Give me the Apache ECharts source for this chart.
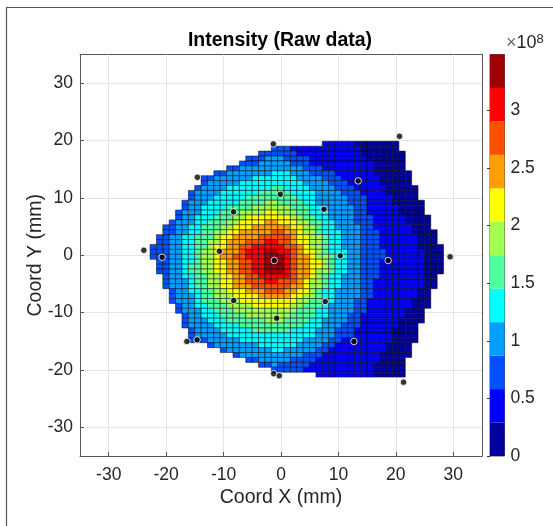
<!DOCTYPE html>
<html><head><meta charset="utf-8">
<style>html,body{margin:0;padding:0;background:#fff}#c{width:553px;height:526px}</style>
<script src="https://cdn.jsdelivr.net/npm/echarts@6/dist/echarts.min.js"></script>
</head><body><div id="c"></div>
<script>
const titleText = 'Intensity (Raw data)';
const xName = 'Coord X (mm)';
const yName = 'Coord Y (mm)';
const xTicks = [-30,-20,-10,0,10,20,30];
const yTicks = [-30,-20,-10,0,10,20,30];
const colorbarMax = 3.485;
const bandColors = ['#00009f','#0000ff','#0050ff','#00a0ff','#00ffff','#50ffa0','#a0ff50','#ffff00','#ffa000','#ff5000','#ff0000','#a00000'];
const cellWidth = 1.111, cellHeight = 0.8566, firstColLeft = -22.8, firstRowTop = 19.87;
// each row: "firstColumn:colourBand ..." runs, top row first
const rowRuns = [
"27:1 32:0","19:2 22:1 33:0","17:2 23:1 33:0","15:2 18:3 21:2 25:1 34:0","14:2 17:3 22:2 25:1 35:0",
"12:2 14:3 24:2 27:1 35:0","10:2 12:3 19:4 22:3 25:2 29:1 35:0","8:2 10:3 16:4 23:3 27:2 30:1 36:0",
"8:2 9:3 14:4 24:3 28:2 31:1 36:0","7:2 8:3 12:4 19:5 21:4 25:3 29:2 32:1 37:0",
"6:2 7:3 11:4 17:5 22:4 26:3 30:2 33:1 37:0","6:2 7:3 10:4 15:5 23:4 26:3 31:2 34:1 38:0",
"5:2 6:3 9:4 14:5 18:6 20:5 24:4 26:3 31:2 34:1 38:0","5:2 6:3 8:4 12:5 16:6 22:5 25:4 27:3 32:2 34:1 39:0",
"4:2 5:3 8:4 11:5 14:6 18:7 20:6 23:5 25:4 28:3 32:2 34:1 39:0","4:2 5:3 7:4 10:5 13:6 15:7 22:6 24:5 26:4 28:3 32:2 35:1 40:0",
"3:2 4:3 7:4 9:5 12:6 14:7 18:8 20:7 23:6 25:5 27:4 29:3 32:2 35:1 40:0",
"2:2 4:3 6:4 8:5 11:6 13:7 16:8 22:7 24:6 26:5 27:4 29:3 33:2 35:1 41:0",
"2:2 4:3 6:4 8:5 10:6 12:7 14:8 19:9 21:8 23:7 24:6 26:5 27:4 30:3 33:2 36:1 41:0",
"1:2 3:3 5:4 7:5 10:6 11:7 13:8 17:9 22:8 23:7 25:6 27:5 28:4 30:3 33:2 36:1 42:0",
"1:2 3:3 5:4 7:5 9:6 11:7 12:8 15:9 18:10 20:9 22:8 23:7 25:6 27:5 28:4 30:3 33:2 36:1 42:0",
"0:2 3:3 5:4 7:5 9:6 10:7 12:8 14:9 16:10 21:9 23:8 24:7 25:6 27:5 28:4 30:3 33:2 36:1 42:0",
"0:2 3:3 5:4 7:5 8:6 10:7 11:8 14:9 15:10 18:11 20:10 22:9 23:8 24:7 26:6 27:5 28:4 31:3 33:2 37:1 43:0",
"0:2 3:3 5:4 7:5 8:6 10:7 11:8 13:9 15:10 18:11 21:10 22:9 23:8 25:7 26:6 28:5 29:4 31:3 33:2 37:1 43:0",
"1:2 3:3 5:4 7:5 8:6 10:7 12:8 14:9 16:10 18:11 21:10 22:9 23:8 25:7 27:6 28:5 29:4 31:3 33:2 36:1 43:0",
"1:2 3:3 5:4 6:5 8:6 10:7 12:8 14:9 16:10 18:11 21:10 22:9 23:8 25:7 27:6 28:5 29:4 31:3 33:2 36:1 43:0",
"1:2 3:3 5:4 6:5 8:6 10:7 12:8 14:9 16:10 18:11 21:10 22:9 23:8 25:7 26:6 28:5 29:4 31:3 33:2 36:1 43:0",
"2:2 3:3 5:4 7:5 9:6 11:7 13:8 15:9 17:10 22:9 23:8 25:7 26:6 27:5 28:4 30:3 33:2 36:1 43:0",
"2:2 3:3 6:4 7:5 9:6 11:7 13:8 15:9 18:10 20:9 23:8 24:7 25:6 27:5 28:4 30:3 33:2 35:1 43:0",
"2:2 3:3 6:4 7:5 9:6 11:7 13:8 16:9 22:8 24:7 25:6 27:5 28:4 30:3 33:2 35:1 43:0",
"3:2 4:3 6:4 8:5 10:6 12:7 15:8 18:9 21:8 23:7 25:6 26:5 27:4 29:3 33:2 35:1 42:0",
"3:2 4:3 7:4 8:5 10:6 13:7 17:8 22:7 24:6 26:5 27:4 29:3 33:2 35:1 42:0",
"3:2 4:3 7:4 8:5 11:6 14:7 23:6 25:5 27:4 29:3 32:2 34:1 41:0",
"4:2 5:3 7:4 9:5 12:6 16:7 22:6 24:5 27:4 28:3 32:2 34:1 41:0",
"4:2 5:3 8:4 10:5 13:6 23:5 26:4 28:3 32:2 34:1 40:0",
"5:2 6:3 8:4 11:5 15:6 22:5 26:4 28:3 31:2 33:1 40:0",
"5:2 6:3 9:4 12:5 18:6 21:5 25:4 27:3 31:2 33:1 39:0",
"5:2 6:3 10:4 14:5 24:4 27:3 30:2 33:1 39:0",
"6:2 7:3 11:4 16:5 22:4 26:3 29:2 32:1 38:0",
"6:2 7:3 12:4 26:3 29:2 32:1 38:0",
"6:2 9:3 14:4 24:3 28:2 30:1 38:0",
"9:2 10:3 17:4 23:3 27:2 29:1 37:0",
"11:2 12:3 19:4 21:3 26:2 28:1 37:0",
"13:2 14:3 24:2 27:1 36:0",
"15:2 17:3 22:2 26:1 36:0",
"17:2 19:3 20:2 25:1 35:0",
"19:2 24:1 35:0",
"26:1 35:0"];
// last filled column of each row, top row first
const rowLastCol = [38,38,39,39,39,39,40,40,40,41,41,41,42,42,42,43,43,43,44,44,44,45,45,45,45,45,45,44,44,44,43,43,43,43,42,42,42,41,41,41,41,40,40,40,39,39,39,39];
const detectorX = [-1.34,-14.56,-8.26,-23.88,-20.7,-10.73,-0.12,-1.17,20.64,13.44,7.48,10.31,18.66,29.44,-8.23,-0.75,-16.4,-14.61,-1.27,-0.3,7.7,12.7,21.34];
const detectorY = [19.41,13.59,7.56,0.87,-0.35,0.7,10.63,-0.92,20.73,12.96,8.01,-0.1,-0.92,-0.28,-7.89,-10.98,-15.03,-14.74,-20.66,-21.01,-8.07,-15.03,-22.13];

const bandSize = colorbarMax / bandColors.length;
const cells = [];
rowRuns.forEach((row, r) => {
  const runs = row.split(' ').map(s => s.split(':').map(Number));
  runs.forEach((run, k) => {
    const end = k + 1 < runs.length ? runs[k + 1][0] - 1 : rowLastCol[r];
    for (let c = run[0]; c <= end; c++) {
      cells.push([firstColLeft + (c + 0.5) * cellWidth, firstRowTop - (r + 0.5) * cellHeight, (run[1] + 0.5) * bandSize]);
    }
  });
});
const ink = '#262626', gridInk = '#e4e4e4', axisInk = '#555', font = '"Liberation Sans", Arial, sans-serif';
const chart = echarts.init(document.getElementById('c'), null, {renderer: 'canvas'});
function mmAxis(name, ticks, extra) {
  return Object.assign({
    type: 'value', min: -35, max: 35, name, nameLocation: 'middle', nameMoveOverlap: false,
    nameTextStyle: {fontFamily: font, fontSize: 19.5, color: ink},
    axisLine: {onZero: false, show: true, lineStyle: {color: axisInk, width: 1}},
    axisTick: {show: true, inside: true, length: 4, customValues: ticks, lineStyle: {color: axisInk}},
    axisLabel: {customValues: ticks, fontFamily: font, fontSize: 17.5, color: ink, showMinLabel: true, showMaxLabel: true},
    splitLine: {show: true, lineStyle: {color: gridInk, width: 1}}, z: 1
  }, extra);
}
function boxAxis(position, ticks) {
  return {gridIndex: 0, type: 'value', min: -35, max: 35, position,
    axisLine: {onZero: false, show: true, lineStyle: {color: axisInk, width: 1}},
    axisTick: {show: true, inside: true, length: 4, customValues: ticks, lineStyle: {color: axisInk}},
    axisLabel: {show: false}, splitLine: {show: false}};
}
const xAxisMain = mmAxis(xName, xTicks, {gridIndex: 0, nameGap: 32});
xAxisMain.axisLabel.margin = 10;
const yAxisMain = mmAxis(yName, yTicks, {gridIndex: 0, nameGap: 34});
yAxisMain.axisLabel.margin = 7;
chart.setOption({
  animation: false, backgroundColor: '#fff',
  title: {text: titleText, left: 275, top: 26, textAlign: 'center',
    textStyle: {fontFamily: font, fontSize: 19.5, fontWeight: 'bold', color: '#000'}},
  grid: [
    {left: 80, top: 54.5, width: 402, height: 401.5, show: false},
    {left: 490, top: 54.5, width: 14.5, height: 401.5, show: true, borderColor: axisInk, borderWidth: 1}
  ],
  xAxis: [
    xAxisMain,
    {gridIndex: 1, type: 'value', min: 0, max: 1, show: false},
    boxAxis('top', xTicks)
  ],
  yAxis: [
    yAxisMain,
    {gridIndex: 1, type: 'value', min: 0, max: colorbarMax, interval: 0.5, position: 'right',
     axisLine: {show: true, lineStyle: {color: axisInk}},
     axisTick: {show: true, inside: true, length: 3, lineStyle: {color: '#333'}},
     axisLabel: {fontFamily: font, fontSize: 17.5, color: ink, margin: 6, showMaxLabel: false},
     splitLine: {show: false}},
    boxAxis('right', yTicks)
  ],
  series: [
    {type: 'custom', xAxisIndex: 0, yAxisIndex: 0, data: cells, silent: true, z: 3, clip: true,
     renderItem(params, api) {
       const x = api.value(0), y = api.value(1);
       const a = api.coord([x - cellWidth / 2, y + cellHeight / 2]);
       const b = api.coord([x + cellWidth / 2, y - cellHeight / 2]);
       return {type: 'rect', shape: {x: a[0], y: a[1], width: b[0] - a[0], height: b[1] - a[1]},
         style: {fill: bandColors[Math.floor(api.value(2) / bandSize)], stroke: 'rgba(10,10,25,0.8)', lineWidth: 0.65}};
     }},
    {type: 'scatter', xAxisIndex: 0, yAxisIndex: 0, z: 5, silent: true, symbol: 'circle', symbolSize: 6.5,
     data: detectorX.map((x, i) => [x, detectorY[i]]),
     itemStyle: {color: '#000', borderColor: '#ffffff', borderWidth: 1}},
    {type: 'custom', xAxisIndex: 1, yAxisIndex: 1, silent: true, z: 3,
     data: bandColors.map((_, i) => [i * bandSize, (i + 1) * bandSize]),
     renderItem(params, api) {
       const a = api.coord([0, api.value(1)]), b = api.coord([1, api.value(0)]);
       return {type: 'rect', shape: {x: a[0], y: a[1], width: b[0] - a[0], height: b[1] - a[1]},
         style: {fill: bandColors[params.dataIndex]}};
     }}
  ],
  graphic: [
    {type: 'rect', z: 0, silent: true, shape: {x: 6.5, y: 7.5, width: 620, height: 620}, style: {fill: 'none', stroke: '#555', lineWidth: 1.2}},
    {type: 'text', left: 506, top: 33, silent: true, style: {
      text: '{a|×}{b|10}{c|8}', rich: {a: {fontFamily: font, fontSize: 18, fill: '#666', fontWeight: 'normal'},
        b: {fontFamily: font, fontSize: 18, fill: ink}, c: {fontFamily: font, fontSize: 13, fill: ink, verticalAlign: 'top', padding: [0,0,8,0]}}}}
  ]
});
</script></body></html>
